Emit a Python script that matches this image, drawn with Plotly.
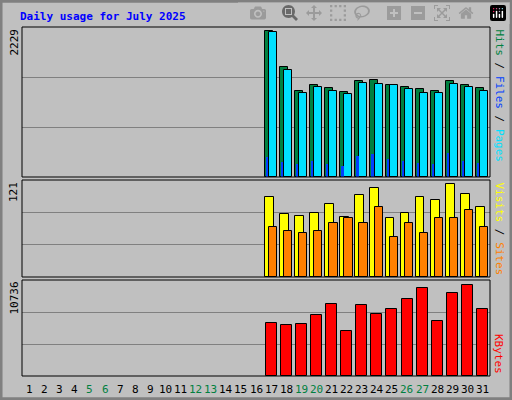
import plotly.graph_objects as go

days = list(range(1, 32))
data_days = list(range(17, 32))
hits = [2229, 1684, 1306, 1397, 1352, 1291, 1473, 1488, 1412, 1367, 1337, 1306, 1473, 1397, 1352]
files = [2214, 1639, 1276, 1367, 1306, 1261, 1442, 1427, 1397, 1336, 1276, 1276, 1427, 1367, 1306]
pages = [308, 232, 202, 247, 202, 171, 323, 353, 277, 247, 217, 202, 368, 247, 217]
visits = [104, 82, 80, 84, 96, 78, 107, 116, 77, 84, 105, 101, 121, 109, 92]
sites = [65, 60, 57, 60, 71, 77, 70, 92, 52, 71, 57, 77, 77, 87, 65]
kbytes = [6269, 6034, 6152, 7210, 8502, 5329, 8385, 7327, 7915, 9090, 10383, 6504, 9796, 10736, 7915]
weekend = [5, 6, 12, 13, 19, 20, 26, 27]

x0, x1 = 22/512, 490/512
doms = {'y': (1-177/400, 1-27/400), 'y2': (1-277/400, 1-180/400), 'y3': (1-376/400, 1-280/400)}
ranges = {'y': 2290, 'y2': 126.7, 'y3': 11284}

fig = go.Figure()
def bar(y, color, off, w, ax, lw=1):
    fig.add_bar(x=data_days, y=y, offset=off, width=w, marker=dict(color=color, line=dict(color='black', width=lw)), xaxis='x', yaxis=ax)

bar(hits, '#008040', -0.42, 0.53, 'y')
bar(files, '#00E0FF', -0.15, 0.53, 'y')
bar(pages, '#0040FF', -0.32, 0.12, 'y', 0)
bar(visits, '#FFFF00', -0.42, 0.58, 'y2')
bar(sites, '#FF8000', -0.15, 0.55, 'y2')
bar(kbytes, '#FF0000', -0.36, 0.73, 'y3')

mono = 'DejaVu Sans Mono'
lay = dict(width=512, height=400, margin=dict(l=0, r=0, t=0, b=0), paper_bgcolor='#C0C0C0', plot_bgcolor='#C0C0C0',
           showlegend=False, barmode='overlay', bargap=0,
           xaxis=dict(domain=[x0, x1], range=[0.5, 31.5], showticklabels=False, showgrid=False, zeroline=False, fixedrange=True))
for k, name in [('y', 'yaxis'), ('y2', 'yaxis2'), ('y3', 'yaxis3')]:
    R = ranges[k]
    lay[name] = dict(domain=list(doms[k]), range=[0, R], tickvals=[R/3, 2*R/3], showticklabels=False,
                     gridcolor='#808080', gridwidth=1, zeroline=False, anchor='x')
fig.update_layout(**lay)

shapes = [dict(type='rect', xref='paper', yref='paper', x0=0.002, x1=0.998, y0=0.003, y1=0.997, line=dict(color='#808080', width=3))]
for k in doms:
    a, b = doms[k]
    shapes.append(dict(type='rect', xref='paper', yref='paper', x0=x0, x1=x1, y0=a, y1=b, line=dict(color='black', width=1)))
fig.update_layout(shapes=shapes)

ann = [dict(text='<b>Daily usage for July 2025</b>', x=18/512, y=1-16/400, xref='paper', yref='paper', xanchor='left', yanchor='middle',
            showarrow=False, font=dict(family=mono, size=11, color='#0000FF'))]
for d in days:
    ann.append(dict(text=str(d), x=d, y=1-389/400, xref='x', yref='paper', showarrow=False, yanchor='middle',
                    font=dict(family=mono, size=11, color='#008040' if d in weekend else 'black')))
for k, lab in [('y', '2229'), ('y2', '121'), ('y3', '10736')]:
    ann.append(dict(text=lab, x=14/512, y=doms[k][1], xref='paper', yref='paper', textangle=-90, xanchor='center', yanchor='top',
                    showarrow=False, font=dict(family=mono, size=11, color='black')))
def side(parts, k):
    txt = ''.join(f'<span style="color:{c}">{t}</span>' for t, c in parts)
    ann.append(dict(text=txt, x=499/512, y=doms[k][1], xref='paper', yref='paper', textangle=90, xanchor='center', yanchor='top',
                    showarrow=False, font=dict(family=mono, size=11)))
side([('Pages', '#00E0FF'), (' / ', 'black'), ('Files', '#0040FF'), (' / ', 'black'), ('Hits', '#008040')][::-1], 'y')
side([('Sites', '#FF8000'), (' / ', 'black'), ('Visits', '#FFFF00')][::-1], 'y2')
side([('KBytes', '#FF0000')], 'y3')
ann[-1]['y'] = doms['y3'][0]; ann[-1]['yanchor'] = 'bottom'
fig.update_layout(annotations=ann)
fig.write_html('out.html', post_script="document.body.style.margin='0';document.body.style.overflow='hidden';")
